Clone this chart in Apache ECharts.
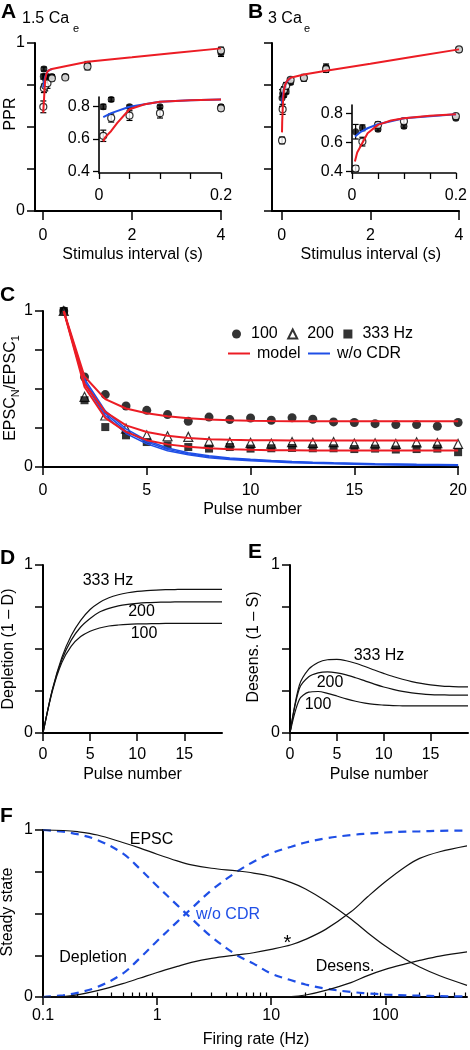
<!DOCTYPE html>
<html><head><meta charset="utf-8">
<script src="https://cdn.jsdelivr.net/npm/echarts@6/dist/echarts.min.js"></script>
<style>html,body{margin:0;padding:0;background:#fff}#c{width:470px;height:1050px}</style>
</head><body><div id="c"></div>
<script>
const FONT = '"Liberation Sans", Arial, Helvetica, sans-serif';
const RED = '#ec1c24', BLUE = '#1f4fe6', BLACK = '#000';

// ---------- Panels A / B : paired-pulse ratio ----------
const ppX = [0.007, 0.02, 0.05, 0.1, 0.2, 0.5, 1, 4];
const aFilled = [0.80, 0.845, 0.80, 0.80, 0.80, 0.80, 0.87, 0.94];
const aFilledErr = [0.015, 0.012, 0.01, 0.01, 0.012, 0.01, 0.02, 0.02];
const aOpen = [0.62, 0.73, 0.745, 0.76, 0.79, 0.795, 0.86, 0.955];
const aOpenErr = [0.035, 0.025, 0.03, 0.03, 0.015, 0.01, 0.02, 0.02];
const aModelX = [0.007, 0.01, 0.02, 0.03, 0.05, 0.075, 0.1, 0.15, 0.2, 0.5, 1, 2, 3, 4];
const aModel = [0.585, 0.61, 0.65, 0.70, 0.784, 0.815, 0.83, 0.84, 0.845, 0.862, 0.889, 0.915, 0.942, 0.968];
const aNoCdrX = [0.007, 0.02, 0.05, 0.1, 0.15, 0.2];
const aNoCdr = [0.735, 0.76, 0.80, 0.83, 0.84, 0.845];

const bFilled = [0.673, 0.70, 0.69, 0.71, 0.765, 0.79, 0.855, 0.96];
const bFilledErr = [0.05, 0.02, 0.012, 0.012, 0.01, 0.01, 0.02, 0.01];
const bOpen = [0.42, 0.605, 0.72, 0.745, 0.78, 0.793, 0.845, 0.962];
const bOpenErr = [0.02, 0.03, 0.02, 0.02, 0.012, 0.02, 0.02, 0.01];
const bModelX = [0.0056, 0.01, 0.016, 0.03, 0.05, 0.075, 0.1, 0.15, 0.2, 0.5, 1, 2, 3, 4];
const bModel = [0.468, 0.53, 0.57, 0.663, 0.72, 0.75, 0.766, 0.783, 0.793, 0.812, 0.835, 0.877, 0.92, 0.962];
const bNoCdrX = [0.0056, 0.016, 0.03, 0.05, 0.1, 0.2];
const bNoCdr = [0.64, 0.67, 0.697, 0.725, 0.766, 0.793];

const mainXTicks = [0, 2, 4];
const insetXTicks = [0, 0.05, 0.1, 0.15, 0.2];
const insetXLabels = [0, 0.2];
const insetYTicks = [0.4, 0.6, 0.8];

// ---------- Panel C : trains ----------
const pulseC = [1,2,3,4,5,6,7,8,9,10,11,12,13,14,15,16,17,18,19,20];
const c100 = [1, 0.577, 0.464, 0.391, 0.363, 0.336, 0.293, 0.32, 0.304, 0.314, 0.30, 0.316, 0.306, 0.289, 0.285, 0.278, 0.272, 0.272, 0.261, 0.285];
const c200 = [1, 0.45, 0.33, 0.246, 0.203, 0.197, 0.193, 0.163, 0.158, 0.155, 0.15, 0.16, 0.155, 0.16, 0.15, 0.152, 0.148, 0.158, 0.153, 0.148];
const c333 = [1, 0.428, 0.256, 0.203, 0.16, 0.139, 0.128, 0.118, 0.128, 0.118, 0.12, 0.122, 0.12, 0.12, 0.115, 0.118, 0.112, 0.115, 0.118, 0.095];
const red100 = [1, 0.58, 0.435, 0.375, 0.345, 0.325, 0.312, 0.305, 0.30, 0.297, 0.295, 0.294, 0.293, 0.293, 0.293, 0.293, 0.293, 0.293, 0.293, 0.293];
const red200 = [1, 0.535, 0.353, 0.267, 0.224, 0.20, 0.186, 0.178, 0.174, 0.172, 0.171, 0.17, 0.17, 0.17, 0.17, 0.17, 0.17, 0.17, 0.17, 0.17];
const red333 = [1, 0.513, 0.315, 0.225, 0.172, 0.145, 0.13, 0.12, 0.114, 0.11, 0.108, 0.107, 0.106, 0.106, 0.106, 0.106, 0.106, 0.106, 0.106, 0.106];
const blue100 = [1, 0.565, 0.36, 0.245, 0.17, 0.122, 0.092, 0.072, 0.058, 0.049, 0.042, 0.036, 0.031, 0.027, 0.024, 0.021, 0.019, 0.017, 0.016, 0.015];
const blue200 = [1, 0.55, 0.345, 0.23, 0.16, 0.113, 0.085, 0.066, 0.053, 0.045, 0.038, 0.032, 0.028, 0.024, 0.021, 0.018, 0.016, 0.014, 0.013, 0.012];
const blue333 = [1, 0.535, 0.33, 0.215, 0.148, 0.104, 0.078, 0.06, 0.048, 0.04, 0.034, 0.028, 0.024, 0.021, 0.018, 0.015, 0.013, 0.012, 0.011, 0.010];

// ---------- Panels D / E ----------
const pulseDE = [0,1,2,3,4,5,6,7,8,9,10,11,12,13,14,15,16,17,18,19];
const dep333 = [0, 0.26, 0.45, 0.58, 0.67, 0.735, 0.777, 0.805, 0.823, 0.835, 0.843, 0.848, 0.851, 0.853, 0.854, 0.855, 0.855, 0.855, 0.855, 0.855];
const dep200 = [0, 0.258, 0.436, 0.553, 0.631, 0.682, 0.72, 0.742, 0.757, 0.766, 0.772, 0.776, 0.778, 0.779, 0.78, 0.781, 0.781, 0.781, 0.781, 0.781];
const dep100 = [0, 0.25, 0.419, 0.517, 0.574, 0.606, 0.625, 0.637, 0.643, 0.647, 0.649, 0.65, 0.651, 0.652, 0.652, 0.652, 0.652, 0.652, 0.652, 0.652];
const des333 = [0, 0.285, 0.38, 0.42, 0.436, 0.438, 0.43, 0.415, 0.396, 0.375, 0.355, 0.336, 0.32, 0.306, 0.295, 0.287, 0.281, 0.277, 0.275, 0.274];
const des200 = [0, 0.265, 0.335, 0.358, 0.364, 0.358, 0.346, 0.329, 0.31, 0.291, 0.274, 0.26, 0.248, 0.239, 0.233, 0.229, 0.227, 0.226, 0.225, 0.225];
const des100 = [0, 0.20, 0.243, 0.247, 0.236, 0.22, 0.203, 0.189, 0.178, 0.17, 0.166, 0.163, 0.162, 0.161, 0.161, 0.161, 0.161, 0.161, 0.161, 0.161];
const deXTicks = [0, 5, 10, 15];

// ---------- Panel F : steady state vs firing rate ----------
const fRate = [0.1, 0.15, 0.2, 0.3, 0.5, 0.7, 1, 1.5, 2, 3, 5, 7, 10, 15, 20, 30, 50, 70, 100, 150, 200, 300, 520];
const fEPSC = [1.0, 0.997, 0.99, 0.97, 0.925, 0.893, 0.855, 0.815, 0.791, 0.771, 0.755, 0.742, 0.722, 0.685, 0.647, 0.575, 0.467, 0.385, 0.305, 0.226, 0.18, 0.127, 0.07];
const fDepletion = [0, 0.003, 0.013, 0.038, 0.08, 0.112, 0.147, 0.183, 0.207, 0.231, 0.252, 0.265, 0.285, 0.313, 0.345, 0.405, 0.51, 0.60, 0.69, 0.78, 0.83, 0.87, 0.905];
const fDesens = [0, 0, 0, 0, 0, 0, 0, 0, 0, 0, 0, 0, 0, 0.002, 0.012, 0.04, 0.086, 0.128, 0.165, 0.198, 0.219, 0.245, 0.27];
const fNoCdrEPSC = [1.0, 0.99, 0.975, 0.94, 0.86, 0.77, 0.665, 0.55, 0.47, 0.36, 0.25, 0.20, 0.14, 0.10, 0.075, 0.05, 0.03, 0.022, 0.015, 0.01, 0.008, 0.005, 0.003];
const fNoCdrDepl = [0.0, 0.01, 0.025, 0.06, 0.14, 0.23, 0.335, 0.45, 0.53, 0.64, 0.75, 0.81, 0.86, 0.90, 0.925, 0.95, 0.97, 0.978, 0.985, 0.99, 0.992, 0.995, 0.997];
const fMajorTicks = [0.1, 1, 10, 100];
const fMinorTicks = [0.2,0.3,0.4,0.5,0.6,0.7,0.8,0.9,2,3,4,5,6,7,8,9,20,30,40,50,60,70,80,90,200,300,400,500];
const fMax = 520;

// ---------- helpers ----------
const zip = (xs, ys) => xs.map((x, i) => [x, ys[i]]);
const lg = v => Math.log10(v);
const only01 = v => (v === 0 || v === 1) ? String(v) : '';

function xAx(gi, min, max, o) {
  return Object.assign({
    gridIndex: gi, type: 'value', min, max,
    axisLine: { show: true, onZero: false, lineStyle: { color: BLACK, width: 2 } },
    axisTick: { show: true, length: 8, lineStyle: { color: BLACK, width: 1.5 } },
    axisLabel: { color: BLACK, fontSize: 16, fontFamily: FONT, margin: 16 },
    splitLine: { show: false }
  }, o);
}
function yAx(gi, min, max, o) {
  return Object.assign({
    gridIndex: gi, type: 'value', min, max, interval: 0.25,
    axisLine: { show: true, onZero: false, lineStyle: { color: BLACK, width: 2 } },
    axisTick: { show: true, length: 8, lineStyle: { color: BLACK, width: 1.5 } },
    axisLabel: { color: BLACK, fontSize: 16, fontFamily: FONT, margin: 10, formatter: only01 },
    splitLine: { show: false }
  }, o);
}
function lineS(name, xi, data, color, width, z, extra) {
  return Object.assign({ name, type: 'line', xAxisIndex: xi, yAxisIndex: xi, data,
    symbol: 'none', showSymbol: false, clip: false, z, silent: true,
    itemStyle: { color }, lineStyle: { color, width } }, extra || {});
}
function dotS(name, xi, data, filled, size, z, symbol) {
  return { name, type: 'scatter', xAxisIndex: xi, yAxisIndex: xi, data, symbol: symbol || 'circle',
    symbolSize: size, clip: false, z, silent: true,
    itemStyle: filled ? { color: BLACK } : { color: '#fff', borderColor: BLACK, borderWidth: 1.2 } };
}
function errS(xi, xs, ys, es, keep) {
  const data = xs.map((x, i) => [x, ys[i], es[i]]).filter(d => keep(d[0]));
  return { type: 'custom', xAxisIndex: xi, yAxisIndex: xi, data, clip: false, z: 3, silent: true,
    encode: { x: 0, y: 1 },
    renderItem(params, api) {
      const x = api.value(0), y = api.value(1), e = api.value(2);
      const p1 = api.coord([x, y + e]), p2 = api.coord([x, y - e]);
      const st = { stroke: BLACK, lineWidth: 1.2 };
      return { type: 'group', children: [
        { type: 'line', shape: { x1: p1[0], y1: p1[1], x2: p2[0], y2: p2[1] }, style: st },
        { type: 'line', shape: { x1: p1[0] - 3, y1: p1[1], x2: p1[0] + 3, y2: p1[1] }, style: st },
        { type: 'line', shape: { x1: p2[0] - 3, y1: p2[1], x2: p2[0] + 3, y2: p2[1] }, style: st }
      ] };
    } };
}
const all = () => true, inInset = x => x <= 0.2;
const filt = (xs, ys) => zip(xs, ys).filter(d => d[0] <= 0.2);

function pprSeries(xiMain, xiInset, filled, filledErr, open, openErr, mX, m, nX, n, tag) {
  const s = [];
  [[xiMain, all, (a, b) => zip(a, b)], [xiInset, inInset, filt]].forEach(([xi, keep, mk]) => {
    s.push(errS(xi, ppX, filled, filledErr, keep));
    s.push(errS(xi, ppX, open, openErr, keep));
    s.push(dotS(tag + ' filled', xi, mk(ppX, filled), true, 7, 4));
    s.push(dotS(tag + ' open', xi, mk(ppX, open), false, 7, 5));
    s.push(lineS(tag + ' w/o CDR', xi, mk(nX, n), BLUE, 2, 6));
    s.push(lineS(tag + ' model', xi, mk(mX, m), RED, 2, 7));
  });
  return s;
}
const smoothDE = { smooth: 0.3 };
const smoothF = { smooth: 0.35 };
const dashF = { color: BLUE, width: 2.2, type: [8, 6] };

const series = [].concat(
  pprSeries(0, 1, aFilled, aFilledErr, aOpen, aOpenErr, aModelX, aModel, aNoCdrX, aNoCdr, 'A'),
  pprSeries(2, 3, bFilled, bFilledErr, bOpen, bOpenErr, bModelX, bModel, bNoCdrX, bNoCdr, 'B'),
  [
    dotS('100', 4, zip(pulseC, c100), true, 9, 2, 'circle'),
    dotS('200', 4, zip(pulseC, c200), false, 9, 2, 'triangle'),
    dotS('333 Hz', 4, zip(pulseC, c333), true, 8, 2, 'rect'),
    lineS('w/o CDR', 4, zip(pulseC, blue100), BLUE, 1.5, 3),
    lineS('w/o CDR', 4, zip(pulseC, blue200), BLUE, 1.5, 3),
    lineS('w/o CDR', 4, zip(pulseC, blue333), BLUE, 1.5, 3),
    lineS('model', 4, zip(pulseC, red100), RED, 2, 4),
    lineS('model', 4, zip(pulseC, red200), RED, 2, 4),
    lineS('model', 4, zip(pulseC, red333), RED, 2, 4)
  ],
  [dep333, dep200, dep100].map((d, i) => lineS('dep' + i, 5, zip(pulseDE, d), '#111', 1.2, 3, smoothDE)),
  [des333, des200, des100].map((d, i) => lineS('des' + i, 6, zip(pulseDE, d), '#111', 1.2, 3, smoothDE)),
  [
    lineS('F EPSC', 7, fRate.map((f, i) => [lg(f), fEPSC[i]]), '#111', 1.2, 4, smoothF),
    lineS('F Depletion', 7, fRate.map((f, i) => [lg(f), fDepletion[i]]), '#111', 1.2, 4, smoothF),
    lineS('F Desens', 7, fRate.map((f, i) => [lg(f), fDesens[i]]), '#111', 1.2, 4, smoothF),
    lineS('F noCDR EPSC', 7, fRate.map((f, i) => [lg(f), fNoCdrEPSC[i]]), BLUE, 2.2, 3, { smooth: 0.35, lineStyle: dashF }),
    lineS('F noCDR Depl', 7, fRate.map((f, i) => [lg(f), fNoCdrDepl[i]]), BLUE, 2.2, 3, { smooth: 0.35, lineStyle: dashF })
  ]
);

const grids = [
  { left: 35, top: 43, width: 186, height: 168 },
  { left: 99, top: 97, width: 122, height: 76 },
  { left: 272, top: 43, width: 187, height: 168 },
  { left: 352, top: 105, width: 107, height: 68 },
  { left: 43, top: 311, width: 418, height: 156 },
  { left: 43, top: 565, width: 179, height: 168 },
  { left: 290, top: 565, width: 178, height: 168 },
  { left: 43, top: 830, width: 424, height: 167 }
];

const insetX = gi => xAx(gi, 0, 0.2, {
  axisLine: { show: true, onZero: false, lineStyle: { color: BLACK, width: 1.6 } },
  axisTick: { show: true, length: 6, customValues: insetXTicks, lineStyle: { color: BLACK, width: 1.3 } },
  axisLabel: { color: BLACK, fontSize: 16, fontFamily: FONT, margin: 15, customValues: insetXLabels }
});
const insetY = (gi, min, max) => yAx(gi, min, max, {
  interval: null,
  axisLine: { show: true, onZero: false, lineStyle: { color: BLACK, width: 1.6 } },
  axisTick: { show: true, length: 6, customValues: insetYTicks, lineStyle: { color: BLACK, width: 1.3 } },
  axisLabel: { color: BLACK, fontSize: 16, fontFamily: FONT, margin: 9, customValues: insetYTicks, formatter: v => v.toFixed(1) }
});
const mainX = (gi, min) => xAx(gi, min, 4, {
  axisTick: { show: true, length: 9, customValues: mainXTicks, lineStyle: { color: BLACK, width: 1.5 } },
  axisLabel: { color: BLACK, fontSize: 16, fontFamily: FONT, margin: 17, customValues: mainXTicks }
});
const deX = gi => xAx(gi, 0, 19, {
  axisTick: { show: true, length: 8, customValues: deXTicks, lineStyle: { color: BLACK, width: 1.5 } },
  axisLabel: { color: BLACK, fontSize: 16, fontFamily: FONT, margin: 14, customValues: deXTicks }
});

const xAxis = [
  mainX(0, -0.18),
  insetX(1),
  mainX(2, -0.22),
  insetX(3),
  xAx(4, 0, 20, { interval: 5 }),
  deX(5),
  deX(6),
  xAx(7, -1, lg(fMax), {
    axisTick: { show: true, length: 8, customValues: fMajorTicks.map(lg), lineStyle: { color: BLACK, width: 1.5 } },
    axisLabel: { color: BLACK, fontSize: 16, fontFamily: FONT, margin: 11, customValues: fMajorTicks.map(lg),
      formatter: v => String(Math.round(Math.pow(10, v) * 10) / 10) }
  }),
  xAx(7, -1, lg(fMax), {
    axisLine: { show: false },
    axisTick: { show: true, length: 4.5, customValues: fMinorTicks.map(lg), lineStyle: { color: BLACK, width: 1.2 } },
    axisLabel: { show: false }
  })
];
const yAxis = [
  yAx(0, 0, 1),
  insetY(1, 0.39, 0.86),
  yAx(2, 0, 1, { axisLabel: { show: false } }),
  insetY(3, 0.389, 0.857),
  yAx(4, 0, 1),
  yAx(5, 0, 1),
  yAx(6, 0, 1),
  yAx(7, 0, 1)
];

function txt(s, x, y, o) {
  return { type: 'text', x, y, z: 100, silent: true, rotation: (o && o.rot) || 0,
    style: Object.assign({ text: s, fill: (o && o.color) || BLACK, font: ((o && o.weight) || 'normal') + ' ' + ((o && o.size) || 16) + 'px ' + FONT,
      textAlign: (o && o.align) || 'center', textVerticalAlign: 'middle' }, (o && o.style) || {}) };
}
const R = Math.PI / 2;
const graphics = [
  txt('A', 1, 12.5, { weight: 'bold', size: 21, align: 'left' }),
  txt('1.5 Ca', 22, 18.5, { align: 'left' }),
  txt('e', 73, 29, { align: 'left', size: 11 }),
  txt('B', 248, 12.5, { weight: 'bold', size: 21, align: 'left' }),
  txt('3 Ca', 268, 18.5, { align: 'left' }),
  txt('e', 304, 29, { align: 'left', size: 11 }),
  txt('PPR', 11, 114, { rot: R }),
  txt('Stimulus interval (s)', 132.5, 255),
  txt('Stimulus interval (s)', 370.8, 255),
  txt('C', 0, 295, { weight: 'bold', size: 21, align: 'left' }),
  { type: 'text', x: 11, y: 388, z: 100, rotation: R, silent: true,
    style: { text: '{m|EPSC}{s|N}{m|/EPSC}{s|1}', fill: BLACK, textAlign: 'center', textVerticalAlign: 'middle',
      rich: { m: { fontSize: 16, fontFamily: FONT, lineHeight: 16, fill: BLACK },
              s: { fontSize: 11, fontFamily: FONT, lineHeight: 11, padding: [10, 0, 0, 0], fill: BLACK } } } },
  txt('Pulse number', 252.5, 510),
  txt('D', 0, 558, { weight: 'bold', size: 21, align: 'left' }),
  txt('Depletion (1 \u2013 D)', 9, 649, { rot: R }),
  txt('333 Hz', 108, 581),
  txt('200', 141.5, 611.5),
  txt('100', 144, 633.5),
  txt('Pulse number', 132.5, 775),
  txt('E', 248, 552.5, { weight: 'bold', size: 21, align: 'left' }),
  txt('Desens. (1 \u2013 S)', 254, 647, { rot: R }),
  txt('333 Hz', 379, 656),
  txt('200', 330, 683),
  txt('100', 318, 705),
  txt('Pulse number', 379, 775),
  txt('F', 0, 816.5, { weight: 'bold', size: 21, align: 'left' }),
  txt('Steady state', 8, 912, { rot: R }),
  txt('EPSC', 151.5, 840),
  txt('w/o CDR', 228, 915, { color: BLUE }),
  txt('Depletion', 93, 958),
  txt('Desens.', 345, 967),
  txt('*', 287.5, 943.5, { size: 20 }),
  txt('Firing rate (Hz)', 256, 1040)
];

const option = {
  animation: false,
  backgroundColor: '#fff',
  textStyle: { fontFamily: FONT },
  grid: grids,
  xAxis, yAxis, series,
  legend: [
    { data: [{ name: '100', icon: 'circle' }, { name: '200', icon: 'triangle' }, { name: '333 Hz', icon: 'rect' }],
      left: 232, top: 326, padding: 0, itemWidth: 9, itemHeight: 9, itemGap: 9.5, selectedMode: false,
      textStyle: { color: BLACK, fontSize: 16, fontFamily: FONT, padding: [0, 0, 0, 5] } },
    { data: ['model', 'w/o CDR'], icon: 'rect',
      left: 228, top: 345.5, padding: 0, itemWidth: 22, itemHeight: 2, itemGap: 7.4, selectedMode: false,
      textStyle: { color: BLACK, fontSize: 16, fontFamily: FONT, padding: [0, 0, 0, 2] } }
  ],
  graphic: graphics
};
const chart = echarts.init(document.getElementById('c'), null, { renderer: 'canvas' });
chart.setOption(option);
</script></body></html>
